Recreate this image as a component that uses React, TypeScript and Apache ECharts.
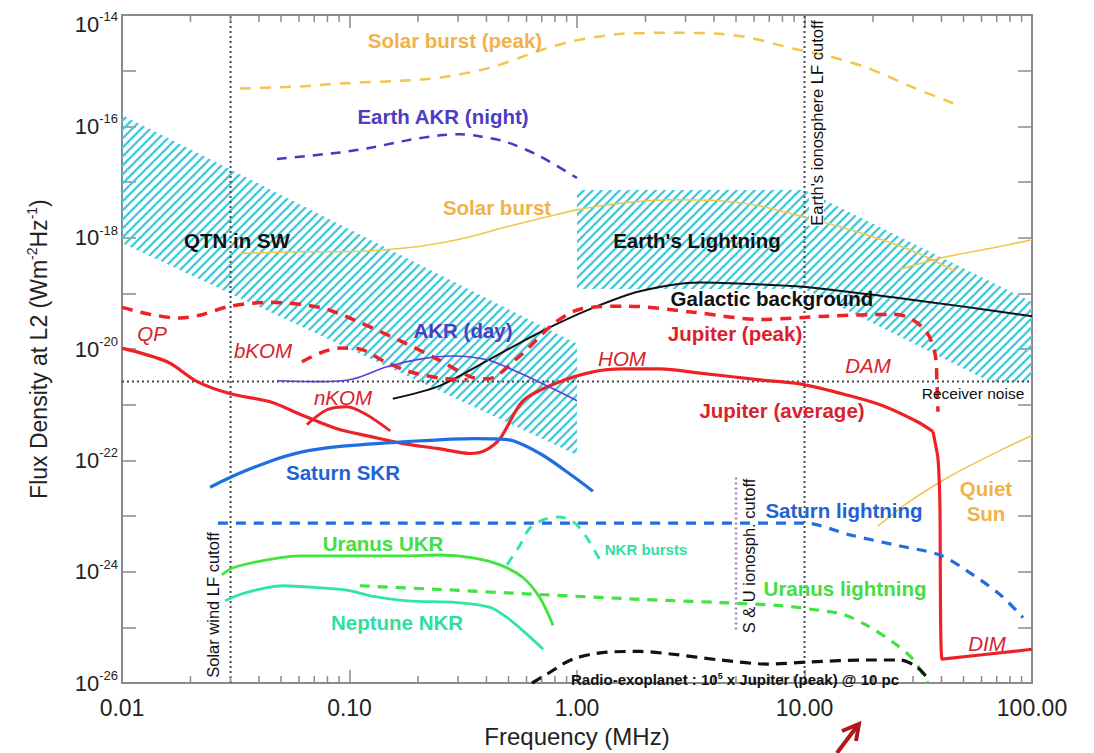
import React, { useEffect, useRef } from "react";
import * as echarts from "echarts";

type Pt = [number, number];

// ---------- axes ----------
const xTicks = [0.01, 0.1, 1, 10, 100];
const xTickLabels = ["0.01", "0.10", "1.00", "10.00", "100.00"];
const xMinorTicks = [
  0.02, 0.03, 0.04, 0.05, 0.06, 0.07, 0.08, 0.09,
  0.2, 0.3, 0.4, 0.5, 0.6, 0.7, 0.8, 0.9,
  2, 3, 4, 5, 6, 7, 8, 9,
  20, 30, 40, 50, 60, 70, 80, 90,
];
const yLabelExponents = [-26, -24, -22, -20, -18, -16, -14];
const fluxMin = 1e-26;
const fluxMax = 1e-14;

// ---------- hatched regions (freq MHz, flux W m^-2 Hz^-1) ----------
const qtnUpper: Pt[] = [[0.01, 1.6e-16], [1, 1.25e-20]];
const qtnLower: Pt[] = [[0.01, 8e-19], [1, 1.25e-22]];
const lightningUpper: Pt[] = [[1, 7.2e-18], [10, 7.2e-18], [100, 7e-20]];
const lightningLower: Pt[] = [[1, 1.2e-19], [10, 1.2e-19], [65, 2.6e-21], [100, 2.6e-21]];

// ---------- curves ----------
const solarBurstPeak: Pt[] = [
  [0.033, 4.8e-16], [0.0605, 5.2e-16], [0.091, 5.9e-16], [0.167, 6.6e-16], [0.25, 7.5e-16],
  [0.415, 1.13e-15], [0.687, 2.3e-15], [0.96, 3.4e-15], [1.59, 4.6e-15], [2.64, 4.8e-15],
  [4.25, 4.6e-15], [5.76, 3.9e-15], [8.9, 2.5e-15], [12.6, 1.85e-15], [18.8, 1.13e-15],
  [30, 5.0e-16], [45, 2.6e-16],
];
const earthAkrNight: Pt[] = [
  [0.048, 2.6e-17], [0.091, 3.4e-17], [0.127, 4.2e-17], [0.179, 5.6e-17], [0.25, 6.9e-17],
  [0.306, 7.2e-17], [0.375, 6.6e-17], [0.492, 5.2e-17], [0.687, 2.9e-17], [1.0, 1.18e-17],
];
const solarBurst: Pt[] = [
  [0.033, 5.2e-19], [0.0605, 5.6e-19], [0.091, 5.6e-19], [0.179, 6.6e-19], [0.297, 9.2e-19],
  [0.492, 1.57e-18], [0.738, 2.37e-18], [1.0, 3.16e-18], [1.59, 4.2e-18], [2.64, 4.8e-18],
  [4.25, 4.6e-18], [6.37, 3.7e-18], [9.8, 2.4e-18], [17.5, 1.23e-18], [29, 6.1e-19], [46, 2.5e-19],
];
const solarBurstHigh: Pt[] = [[26.3, 2.7e-19], [40.6, 4.4e-19], [65.3, 6.4e-19], [100, 9.2e-19]];
const quietSun: Pt[] = [[21, 6.6e-24], [29.1, 1.85e-23], [43.6, 5.2e-23], [72.3, 1.5e-22], [100, 2.8e-22]];
const galacticBackground: Pt[] = [
  [0.155, 1.28e-21], [0.25, 2.2e-21], [0.415, 6.6e-21], [0.687, 2.0e-20], [1.14, 5.2e-20],
  [1.89, 1.09e-19], [3.47, 1.57e-19], [6.37, 1.45e-19], [10.6, 1.28e-19], [24.5, 8.5e-20],
  [48.3, 5.9e-20], [100, 3.9e-20],
];
const jupiterPeak: Pt[] = [
  [0.01, 5.6e-20], [0.0133, 4.2e-20], [0.018, 3.6e-20], [0.022, 4.05e-20], [0.03, 5.9e-20],
  [0.0448, 6.9e-20], [0.0742, 5.6e-20], [0.1035, 3.4e-20], [0.172, 1.33e-20], [0.243, 6.6e-21],
  [0.339, 3.2e-21], [0.402, 2.9e-21], [0.561, 7.5e-21], [0.785, 2.8e-20], [1.03, 5.2e-20],
  [1.66, 5.9e-20], [3.24, 4.6e-20], [6.37, 3.4e-20], [12.6, 3.9e-20], [24.5, 4.2e-20],
  [29.1, 3.6e-20], [34.5, 2.0e-20], [37.5, 8.1e-21], [38.2, 2.6e-21], [38.6, 7.5e-22],
];
const bKom: Pt[] = [
  [0.0618, 5.9e-21], [0.0742, 8.5e-21], [0.091, 1.04e-20], [0.111, 1.0e-20], [0.143, 5.9e-21],
  [0.185, 3.9e-21], [0.25, 3.0e-21], [0.328, 2.8e-21],
];
const jupiterAverage: Pt[] = [
  [0.01, 1.04e-20], [0.0158, 5.9e-21], [0.0214, 2.6e-21], [0.03, 1.57e-21], [0.0448, 1.13e-21],
  [0.0625, 6.4e-22], [0.0881, 3.7e-22], [0.123, 2.7e-22], [0.172, 2.0e-22], [0.243, 1.64e-22],
  [0.339, 1.33e-22], [0.395, 1.51e-22], [0.459, 2.47e-22], [0.58, 1.18e-21], [0.817, 2.47e-21],
  [1.175, 3.9e-21], [1.59, 4.4e-21], [2.32, 4.4e-21], [3.47, 3.7e-21], [6.37, 2.8e-21],
  [9.55, 2.37e-21], [15.8, 1.45e-21], [22.1, 9.6e-22], [31.2, 5.0e-22], [36.7, 3.3e-22],
];
const jupiterCutoff: Pt[] = [
  [36.7, 3.3e-22], [38.6, 1.09e-22], [39.4, 1.39e-23], [40.2, 2.7e-26], [100, 4.05e-26],
];
const nKom: Pt[] = [[0.065, 4.4e-22], [0.0796, 8.1e-22], [0.0975, 9.2e-22], [0.119, 6.6e-22], [0.151, 3.4e-22]];
const akrDay: Pt[] = [
  [0.048, 2.7e-21], [0.0742, 2.6e-21], [0.1035, 2.9e-21], [0.146, 4.8e-21], [0.204, 6.6e-21],
  [0.285, 7.5e-21], [0.402, 6.4e-21], [0.561, 3.7e-21], [0.785, 1.93e-21], [1.0, 1.18e-21],
];
const saturnSkr: Pt[] = [
  [0.0244, 3.3e-23], [0.03, 5.0e-23], [0.0434, 9.2e-23], [0.0605, 1.39e-22], [0.091, 1.78e-22],
  [0.179, 2.18e-22], [0.349, 2.47e-22], [0.492, 2.37e-22], [0.687, 1.33e-22], [0.96, 5.2e-23],
  [1.175, 2.8e-23],
];
const saturnLightning: Pt[] = [
  [0.0264, 7.5e-24], [10, 7.5e-24], [15.8, 4.6e-24], [26.3, 2.9e-24], [39.4, 2.0e-24],
  [51.8, 1.04e-24], [72.3, 3.9e-25], [91.3, 1.5e-25],
];
const uranusUkr: Pt[] = [
  [0.0275, 8.8e-25], [0.0308, 1.18e-24], [0.0434, 1.64e-24], [0.0605, 1.93e-24], [0.111, 1.93e-24],
  [0.179, 1.93e-24], [0.25, 2.0e-24], [0.349, 1.78e-24], [0.459, 1.33e-24], [0.58, 7.8e-25],
  [0.687, 3.4e-25], [0.785, 1.09e-25],
];
const neptuneNkr: Pt[] = [
  [0.0284, 3.0e-25], [0.033, 3.9e-25], [0.0434, 5.2e-25], [0.051, 5.6e-25], [0.072, 5.2e-25],
  [0.1, 4.6e-25], [0.127, 3.6e-25], [0.179, 3.0e-25], [0.297, 2.8e-25], [0.415, 2.3e-25],
  [0.492, 1.51e-25], [0.603, 7.5e-26], [0.71, 4.05e-26],
];
const nkrBursts: Pt[] = [
  [0.492, 1.33e-24], [0.561, 3.0e-24], [0.621, 6.1e-24], [0.723, 8.8e-24], [0.841, 9.6e-24],
  [0.98, 7.5e-24], [1.107, 4.05e-24], [1.26, 1.64e-24],
];
const uranusLightning: Pt[] = [
  [0.111, 5.6e-25], [0.25, 4.8e-25], [0.687, 3.9e-25], [1.89, 3.2e-25], [4.25, 2.8e-25],
  [7.8, 2.47e-25], [10.9, 2.1e-25], [14.8, 1.71e-25], [18.8, 1.09e-25], [24.5, 5.4e-26],
  [30, 2.68e-26], [34.9, 1.0e-26],
];
const radioExoplanet: Pt[] = [
  [0.634, 1.0e-26], [0.738, 1.45e-26], [0.96, 2.7e-26], [1.355, 3.6e-26], [1.89, 3.7e-26],
  [2.64, 3.3e-26], [4.25, 2.6e-26], [6.84, 2.2e-26], [10.6, 2.4e-26], [18.8, 2.6e-26],
  [26.3, 2.6e-26], [31.2, 1.93e-26], [35.6, 1.09e-26],
];

// ---------- reference lines ----------
const solarWindCutoff: Pt[] = [[0.03, fluxMin], [0.03, fluxMax]];
const earthIonoCutoff: Pt[] = [[10, fluxMin], [10, fluxMax]];
const suIonoCutoff: Pt[] = [[5, 9.2e-26], [5, 5.2e-23]];
const receiverNoise: Pt[] = [[0.01, 2.6e-21], [100, 2.6e-21]];

// ---------- styles ----------
const FONT = '"Liberation Sans", Arial, Helvetica, sans-serif';
const AXIS = "#8a8a8a";
const TXT = "#222";
const RED = "#ec2227";
const RED_T = "#d8222d";
const BLUE = "#1f6de0";
const BLUE_T = "#2262d4";
const GREEN = "#3fe43f";
const GREEN_T = "#41df41";
const TEAL = "#2fe6a3";
const TEAL_T = "#30dea0";
const PURPLE = "#5a3fd6";
const PURPLE_T = "#4e3cc4";
const SOLAR = "#f2c64c";
const SOLAR_T = "#f0b24a";
const HATCH = "#45cbdc";

const yLo = Math.round(Math.log10(fluxMin));
const yHi = Math.round(Math.log10(fluxMax));

const toLog = (pts: Pt[]) => pts.map(([f, v]) => [f, Math.log10(v)]);

function lineSeries(name: string, pts: Pt[], color: string, width: number, type: any = "solid", smooth: number | boolean = 0.3, z = 3) {
  return {
    name,
    type: "line",
    data: toLog(pts),
    symbol: "none",
    showSymbol: false,
    smooth,
    silent: true,
    z,
    lineStyle: { color, width, type, cap: "butt", join: "round" },
  };
}

function hatchSeries(name: string, upper: Pt[], lower: Pt[], pattern: any) {
  return {
    name,
    type: "custom",
    silent: true,
    z: 1,
    encode: { x: 0, y: 1 },
    data: [[upper[0][0], Math.log10(upper[0][1])]],
    renderItem: (_p: any, api: any) => {
      const pts = [...upper, ...lower.slice().reverse()].map(([f, v]) => api.coord([f, Math.log10(v)]));
      return { type: "polygon", shape: { points: pts }, style: { fill: pattern, stroke: "none" } };
    },
  };
}

type Ann = { text: string; x: number; y: number; color: string; size?: number; weight?: string; italic?: boolean; rot?: number; rich?: any };

const annotations: Ann[] = [
  { text: "Solar burst (peak)", x: 455, y: 40, color: SOLAR_T },
  { text: "Earth AKR (night)", x: 443, y: 116, color: PURPLE_T },
  { text: "Solar burst", x: 497, y: 207, color: SOLAR_T },
  { text: "QTN in SW", x: 237, y: 240, color: "#111" },
  { text: "Earth's Lightning", x: 697, y: 240, color: "#111" },
  { text: "Galactic background", x: 772, y: 298, color: "#111" },
  { text: "Jupiter (peak)", x: 735, y: 333, color: RED_T },
  { text: "QP", x: 152, y: 333, color: RED_T, weight: "normal", italic: true },
  { text: "bKOM", x: 263, y: 350, color: RED_T, weight: "normal", italic: true },
  { text: "AKR (day)", x: 463, y: 330, color: PURPLE_T },
  { text: "nKOM", x: 343, y: 397, color: RED_T, weight: "normal", italic: true },
  { text: "HOM", x: 622, y: 358, color: RED_T, weight: "normal", italic: true },
  { text: "DAM", x: 868, y: 365, color: RED_T, weight: "normal", italic: true },
  { text: "Jupiter (average)", x: 782, y: 410, color: RED_T },
  { text: "Receiver noise", x: 973, y: 393, color: "#111", size: 15.5, weight: "normal" },
  { text: "Saturn SKR", x: 343, y: 472, color: BLUE_T },
  { text: "Saturn lightning", x: 844, y: 510, color: BLUE_T },
  { text: "Quiet", x: 986, y: 488, color: SOLAR_T },
  { text: "Sun", x: 986, y: 513, color: SOLAR_T },
  { text: "Uranus UKR", x: 383, y: 543, color: GREEN_T },
  { text: "NKR bursts", x: 646, y: 549, color: TEAL_T, size: 15 },
  { text: "Uranus lightning", x: 845, y: 588, color: GREEN_T },
  { text: "Neptune NKR", x: 397, y: 622, color: TEAL_T },
  { text: "DIM", x: 987, y: 643, color: RED_T, weight: "normal", italic: true },
  {
    text: "Radio-exoplanet : 10{s|5} x Jupiter (peak) @ 10 pc", x: 735, y: 679, color: "#111", size: 15,
    rich: { s: { fontSize: 9, fontWeight: "bold", fontFamily: FONT, fill: "#111", verticalAlign: "top", lineHeight: 10 } },
  },
  { text: "Earth's ionosphere LF cutoff", x: 817, y: 123, color: "#111", size: 16.5, weight: "normal", rot: Math.PI / 2 },
  { text: "S & U ionosph. cutoff", x: 749, y: 556, color: "#111", size: 16.5, weight: "normal", rot: Math.PI / 2 },
  { text: "Solar wind LF cutoff", x: 213, y: 605, color: "#111", size: 16.5, weight: "normal", rot: Math.PI / 2 },
];

function makePattern() {
  const s = 9;
  const c = document.createElement("canvas");
  c.width = s;
  c.height = s;
  const ctx = c.getContext("2d")!;
  ctx.strokeStyle = HATCH;
  ctx.lineWidth = 2.3;
  ctx.beginPath();
  ctx.moveTo(0, s);
  ctx.lineTo(s, 0);
  ctx.moveTo(-2, 2);
  ctx.lineTo(2, -2);
  ctx.moveTo(s - 2, s + 2);
  ctx.lineTo(s + 2, s - 2);
  ctx.stroke();
  return { image: c, repeat: "repeat", imageWidth: s, imageHeight: s };
}

function buildOption() {
  const pattern = makePattern();
  const dotted = [2, 3];

  const xAxisBase = {
    type: "log",
    logBase: 10,
    min: xTicks[0],
    max: xTicks[xTicks.length - 1],
    axisLine: { show: true, onZero: false, lineStyle: { color: AXIS, width: 2 } },
    axisTick: { show: true, inside: true, length: 13, lineStyle: { color: AXIS, width: 1.5 } },
    splitLine: { show: false },
    minorTick: { show: false },
  };
  const yAxisBase = {
    type: "value",
    min: yLo,
    max: yHi,
    interval: 1,
    axisLine: { show: true, onZero: false, lineStyle: { color: AXIS, width: 2 } },
    axisTick: { show: true, inside: true, length: 14, lineStyle: { color: AXIS, width: 1.5 } },
    splitLine: { show: false },
  };

  const option: any = {
    animation: false,
    backgroundColor: "#fff",
    grid: { left: 122, right: 62, top: 14, bottom: 67, containLabel: false, show: true, borderColor: AXIS, borderWidth: 2, backgroundColor: "transparent" },
    xAxis: [
      {
        ...xAxisBase,
        position: "bottom",
        axisLabel: {
          margin: 13,
          fontSize: 23,
          color: TXT,
          fontFamily: FONT,
          formatter: (v: number) => {
            const i = xTicks.findIndex((t) => Math.abs(Math.log10(t) - Math.log10(v)) < 1e-6);
            return i >= 0 ? xTickLabels[i] : "";
          },
        },
        name: "Frequency (MHz)",
        nameLocation: "middle",
        nameGap: 38,
        nameTextStyle: { fontSize: 24, color: TXT, fontFamily: FONT },
      },
      { ...xAxisBase, position: "top", axisLabel: { show: false } },
    ],
    yAxis: [
      {
        ...yAxisBase,
        position: "left",
        axisLabel: {
          margin: 4,
          formatter: (v: number) => {
            const e = Math.round(v);
            if (!yLabelExponents.includes(e)) return "";
            const lbl = `{b|10}{s|${e}}`;
            return e === yHi ? `{gap| }\n${lbl}` : lbl;
          },
          rich: {
            b: { fontSize: 22, fontFamily: FONT, color: TXT, lineHeight: 28 },
            s: { fontSize: 13, fontFamily: FONT, color: TXT, lineHeight: 14, verticalAlign: "top" },
            gap: { fontSize: 2, lineHeight: 18 },
          },
        },
        name: "Flux Density at L2 (Wm{s|-2}Hz{s|-1})",
        nameLocation: "middle",
        nameGap: 69,
        nameRotate: 90,
        nameTextStyle: {
          fontSize: 23,
          color: TXT,
          fontFamily: FONT,
          lineHeight: 28,
          rich: { s: { fontSize: 14, fontFamily: FONT, color: TXT, lineHeight: 14, verticalAlign: "top" } },
        },
      },
      { ...yAxisBase, position: "right", axisLabel: { show: false } },
    ],
    series: [
      hatchSeries("QTN in SW", qtnUpper, qtnLower, pattern),
      hatchSeries("Earth's Lightning", lightningUpper, lightningLower, pattern),
      lineSeries("Solar wind LF cutoff", solarWindCutoff, "#444", 2, dotted, false, 2),
      lineSeries("Earth's ionosphere LF cutoff", earthIonoCutoff, "#444", 2, dotted, false, 2),
      lineSeries("S & U ionosph. cutoff", suIonoCutoff, "#9b84c9", 2.5, dotted, false, 2),
      lineSeries("Receiver noise", receiverNoise, "#444", 2, dotted, false, 2),
      lineSeries("Solar burst (peak)", solarBurstPeak, SOLAR, 2.5, [11, 9]),
      lineSeries("Earth AKR (night)", earthAkrNight, "#4a36c4", 2.5, [10, 8]),
      lineSeries("Solar burst", solarBurst, SOLAR, 1.6),
      lineSeries("Solar burst HF", solarBurstHigh, SOLAR, 1.6),
      lineSeries("Quiet Sun", quietSun, SOLAR, 1.6),
      lineSeries("Galactic background", galacticBackground, "#111", 2),
      lineSeries("Jupiter (peak)", jupiterPeak, RED, 3.5, [11, 8]),
      lineSeries("bKOM", bKom, RED, 3.5, [11, 8]),
      lineSeries("Jupiter (average)", jupiterAverage, RED, 3.2),
      lineSeries("Jupiter cutoff", jupiterCutoff, RED, 3.2, "solid", 0.15),
      lineSeries("nKOM", nKom, RED, 2.8),
      lineSeries("AKR (day)", akrDay, PURPLE, 1.6),
      lineSeries("Saturn SKR", saturnSkr, BLUE, 3.2),
      lineSeries("Saturn lightning", saturnLightning, BLUE, 3.2, [10, 8]),
      lineSeries("Uranus UKR", uranusUkr, GREEN, 2.8),
      lineSeries("Neptune NKR", neptuneNkr, TEAL, 2.8),
      lineSeries("NKR bursts", nkrBursts, TEAL, 2.8, [10, 8]),
      lineSeries("Uranus lightning", uranusLightning, GREEN, 3.2, [10, 8]),
      lineSeries("Radio-exoplanet", radioExoplanet, "#111", 3.2, [11, 7]),
      {
        name: "minor ticks",
        type: "custom",
        silent: true,
        z: 5,
        encode: { x: 0, y: 1 },
        data: xMinorTicks.map((v) => [v, -20]),
        renderItem: (_p: any, api: any) => {
          const v = api.value(0);
          const b = api.coord([v, yLo]);
          const t = api.coord([v, yHi]);
          const st = { stroke: AXIS, lineWidth: 1.5 };
          return {
            type: "group",
            children: [
              { type: "line", shape: { x1: b[0], y1: b[1], x2: b[0], y2: b[1] - 7 }, style: st },
              { type: "line", shape: { x1: t[0], y1: t[1], x2: t[0], y2: t[1] + 7 }, style: st },
            ],
          };
        },
      },
    ],
    graphic: [
      { type: "rect", z: 9, silent: true, shape: { x: 809, y: 186, width: 15, height: 40 }, style: { fill: "#fff" } },
      ...annotations.map((a) => ({
        type: "text",
        x: a.x,
        y: a.y,
        rotation: a.rot || 0,
        z: 10,
        silent: true,
        style: {
          text: a.text,
          fill: a.color,
          font: `${a.italic ? "italic" : "normal"} ${a.weight || "bold"} ${a.size || 20.5}px ${FONT}`,
          textAlign: "center",
          textVerticalAlign: "middle",
          rich: a.rich,
        },
      })),
      {
        type: "polyline",
        z: 10,
        silent: true,
        shape: { points: [[837, 753], [858, 725]] },
        style: { stroke: "#b0171b", lineWidth: 4, fill: "none" },
      },
      {
        type: "polyline",
        z: 10,
        silent: true,
        shape: { points: [[842, 731], [859, 724], [856, 741]] },
        style: { stroke: "#b0171b", lineWidth: 4, fill: "none" },
      },
    ],
  };
  return option;
}

export default function App() {
  const ref = useRef<HTMLDivElement>(null);
  useEffect(() => {
    document.body.style.margin = "0";
    const chart = echarts.init(ref.current!, undefined, { renderer: "svg" });
    chart.setOption(buildOption());
    return () => chart.dispose();
  }, []);
  return <div ref={ref} style={{ width: 1094, height: 753, background: "#fff" }} />;
}
